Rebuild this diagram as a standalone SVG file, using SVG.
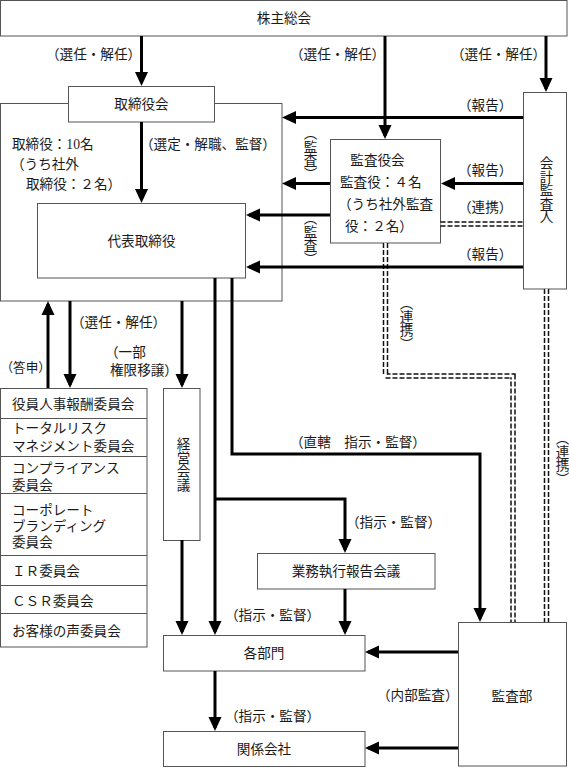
<svg xmlns="http://www.w3.org/2000/svg" width="569" height="768" viewBox="0 0 569 768">
<style>
.bx{fill:#fff;stroke:#555;stroke-width:1}
.t{font-family:"Liberation Serif","Noto Sans CJK JP",serif;font-size:13.6px;fill:#1a1a1a;dominant-baseline:central}
.c{text-anchor:middle}
.v{writing-mode:vertical-rl}
.ln{fill:none;stroke:#000;stroke-width:3}
.dd{fill:none;stroke:#111;stroke-width:5.5;stroke-dasharray:5 2}
.di{fill:none;stroke:#fff;stroke-width:2.5}
</style>
<defs>
<marker id="ah" markerUnits="userSpaceOnUse" markerWidth="14" markerHeight="14" refX="11" refY="7" orient="auto" viewBox="0 0 14 14">
<path d="M0,0.5 L14,7 L0,13.5 Z" fill="#000"/>
</marker>
</defs>

<g id="shareholders">
<rect class="bx" x="0.5" y="0.5" width="566.5" height="35.5"/>
<text class="t c" x="284" y="18.5">株主総会</text>
</g>

<g id="directors-area">
<rect class="bx" x="0.5" y="103.5" width="281.5" height="197.5"/>
<text class="t" x="12" y="144">取締役：10名</text>
<text class="t" x="11" y="164">（うち社外</text>
<text class="t" x="26" y="184">取締役：２名）</text>
</g>

<g id="board">
<rect class="bx" x="68.5" y="86.5" width="146" height="35.5"/>
<text class="t c" x="141.5" y="104">取締役会</text>
</g>

<g id="representative">
<rect class="bx" x="37.5" y="203.5" width="208" height="74.5"/>
<text class="t c" x="141.5" y="241">代表取締役</text>
</g>

<g id="audit-board">
<rect class="bx" x="330.5" y="139.5" width="110" height="103.5"/>
<text class="t c" x="377.5" y="160">監査役会</text>
<text class="t" x="340" y="182">監査役：４名</text>
<text class="t" x="338" y="204">（うち社外監査</text>
<text class="t" x="345" y="226">役：２名）</text>
</g>

<g id="accounting-auditor">
<rect class="bx" x="523.5" y="92.5" width="43" height="196.5"/>
<text class="t v" x="545" y="156">会計監査人</text>
</g>

<g id="committees">
<rect class="bx" x="0.5" y="388.5" width="146.5" height="258.5"/>
<path d="M0.5,418.5H147M0.5,456.5H147M0.5,493.5H147M0.5,555.5H147M0.5,585.5H147M0.5,613.5H147" stroke="#555" stroke-width="1" fill="none"/>
<text class="t" x="12" y="404">役員人事報酬委員会</text>
<text class="t" x="12" y="428">トータルリスク</text>
<text class="t" x="12" y="446">マネジメント委員会</text>
<text class="t" x="12" y="468">コンプライアンス</text>
<text class="t" x="12" y="485">委員会</text>
<text class="t" x="12" y="510">コーポレート</text>
<text class="t" x="12" y="526">ブランディング</text>
<text class="t" x="12" y="542">委員会</text>
<text class="t" x="12" y="571">ＩＲ委員会</text>
<text class="t" x="12" y="601">ＣＳＲ委員会</text>
<text class="t" x="12" y="631">お客様の声委員会</text>
</g>

<g id="management-meeting">
<rect class="bx" x="163.5" y="388.5" width="36.5" height="152"/>
<text class="t v" x="182" y="437">経営会議</text>
</g>

<g id="exec-report">
<rect class="bx" x="257.5" y="553.5" width="177.5" height="35.5"/>
<text class="t c" x="346" y="571">業務執行報告会議</text>
</g>

<g id="departments">
<rect class="bx" x="163.5" y="635.5" width="201.5" height="35.5"/>
<text class="t c" x="264" y="653">各部門</text>
</g>

<g id="affiliates">
<rect class="bx" x="163.5" y="731.5" width="201.5" height="35"/>
<text class="t c" x="264" y="749">関係会社</text>
</g>

<g id="audit-dept">
<rect class="bx" x="458.5" y="622.5" width="108" height="143.5"/>
<text class="t c" x="512" y="696">監査部</text>
</g>

<g id="connectors">
<path class="dd" d="M385.5,243V376H513V622"/>
<path class="di" d="M385.5,243V376H513V622"/>
<path class="dd" d="M546.5,289V622"/>
<path class="di" d="M546.5,289V622"/>
<path class="dd" d="M440.5,224H523"/>
<path class="di" d="M440.5,224H523"/>

<path class="ln" marker-end="url(#ah)" d="M141.5,36V83"/>
<path class="ln" marker-end="url(#ah)" d="M385,36V136"/>
<path class="ln" marker-end="url(#ah)" d="M546,36V89"/>
<path class="ln" marker-end="url(#ah)" d="M141.5,122V200"/>
<path class="ln" marker-end="url(#ah)" d="M523,117.5H285"/>
<path class="ln" marker-end="url(#ah)" d="M523,183.5H444"/>
<path class="ln" marker-end="url(#ah)" d="M523,267H249"/>
<path class="ln" marker-end="url(#ah)" d="M330,183.5H285"/>
<path class="ln" marker-end="url(#ah)" d="M330,215H249"/>
<path class="ln" marker-end="url(#ah)" d="M70,301V385"/>
<path class="ln" marker-end="url(#ah)" d="M48,388V304"/>
<path class="ln" marker-end="url(#ah)" d="M182,301V385"/>
<path class="ln" marker-end="url(#ah)" d="M215,278V632"/>
<path class="ln" marker-end="url(#ah)" d="M215,499H345V550"/>
<path class="ln" marker-end="url(#ah)" d="M232,278V454H480V619"/>
<path class="ln" marker-end="url(#ah)" d="M182,540V632"/>
<path class="ln" marker-end="url(#ah)" d="M345,589V632"/>
<path class="ln" marker-end="url(#ah)" d="M215,671V728"/>
<path class="ln" marker-end="url(#ah)" d="M458,652H368"/>
<path class="ln" marker-end="url(#ah)" d="M458,748H368"/>

<text class="t" x="46" y="54">（選任・解任）</text>
<text class="t" x="290" y="54">（選任・解任）</text>
<text class="t" x="451" y="54">（選任・解任）</text>
<text class="t" x="458" y="105">（報告）</text>
<text class="t" x="458" y="170">（報告）</text>
<text class="t" x="458" y="207">（連携）</text>
<text class="t" x="458" y="254">（報告）</text>
<text class="t" x="140" y="144">（選定・解職、監督）</text>
<text class="t v" x="309" y="126">（監査）</text>
<text class="t v" x="309" y="211">（監査）</text>
<text class="t v" x="405" y="296">（連携）</text>
<text class="t v" x="561" y="431">（連携）</text>
<text class="t" x="71" y="322">（選任・解任）</text>
<text class="t" x="0.5" y="368" style="font-size:12.6px">（答申）</text>
<text class="t" x="105" y="352">（一部</text>
<text class="t" x="110" y="370">権限移譲）</text>
<text class="t" x="290" y="442">（直轄　指示・監督）</text>
<text class="t" x="346" y="522">（指示・監督）</text>
<text class="t" x="225" y="615">（指示・監督）</text>
<text class="t" x="225" y="716">（指示・監督）</text>
<text class="t" x="377" y="695">（内部監査）</text>
</g>
</svg>
